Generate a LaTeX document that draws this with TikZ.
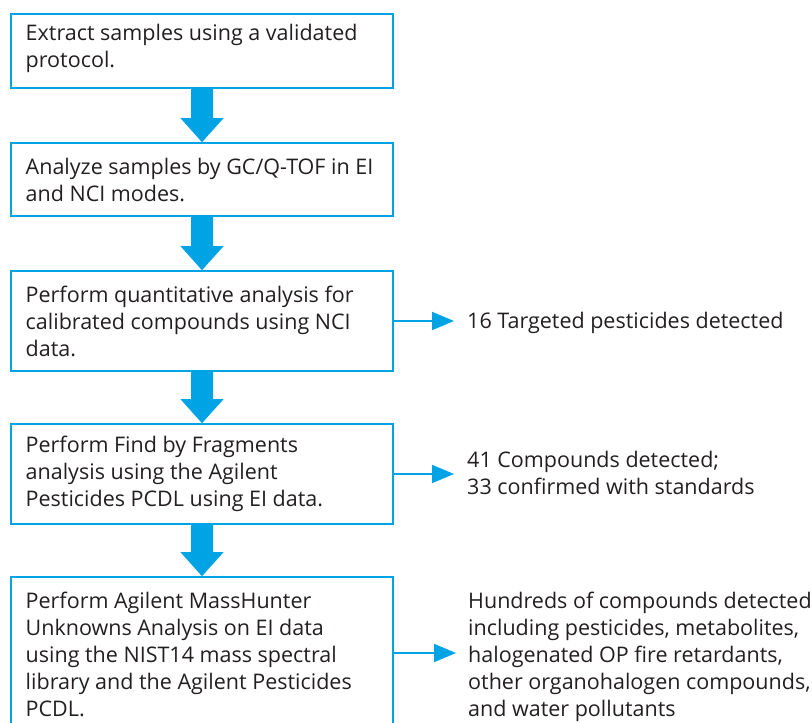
\documentclass[tikz,border=0pt]{standalone}
\usepackage{fontspec}
\setmainfont{Open Sans}
\usetikzlibrary{arrows.meta,calc}
\definecolor{ablue}{RGB}{0,164,228}
\definecolor{txtc}{RGB}{35,31,32}
\tikzset{
  box/.style={draw=ablue, line width=1.6pt, rectangle, minimum width=382pt, inner sep=0pt},
  txt/.style={anchor=north west, inner sep=0pt, align=left, text=txtc, font=\fontsize{21.5}{27}\selectfont},
  fat/.style={fill=ablue},
  side/.style={draw=ablue, line width=2pt, -{Triangle[length=22pt,width=18pt]}}
}
\begin{document}
\begin{tikzpicture}[x=1pt,y=-1pt]
\useasboundingbox (0,0) rectangle (812,723);
\clip (0,0) rectangle (812,723);
% boxes
\node[box, minimum height=74pt]  (b1) at (202,51) {};
\node[box, minimum height=73pt]  (b2) at (202,179.5) {};
\node[box, minimum height=100pt] (b3) at (202,321) {};
\node[box, minimum height=100pt] (b4) at (202,474) {};
\node[box, minimum height=152pt] (b5) at (202,653) {};
% box texts
\node[txt] (t1) at (25.5,21.1) {\strut Extract samples using a validated\\protocol.\strut};
\node[txt] (t2) at (25.5,155.1) {\strut Analyze samples by GC/Q-TOF in EI\\and NCI modes.\strut};
\node[txt] (t3) at (25.5,283.8) {\strut Perform quantitative analysis for\\calibrated compounds using NCI\\data.\strut};
\node[txt] (t4) at (25.5,433.8) {\strut Perform Find by Fragments\\analysis using the Agilent\\Pesticides PCDL using EI data.\strut};
\node[txt] (t5) at (25.5,589.6) {\strut Perform Agilent MassHunter\\Unknowns Analysis on EI data\\using the NIST14 mass spectral\\library and the Agilent Pesticides\\PCDL.\strut};
% result texts
\node[txt] (r1) at (467,309.1) {\strut 16 Targeted pesticides detected\strut};
\node[txt] (r2) at (467,448.1) {\strut 41 Compounds detected;\\33 confirmed with standards\strut};
\node[txt] (r3) at (468,589.1) {\strut Hundreds of compounds detected\\including pesticides, metabolites,\\halogenated OP fire retardants,\\other organohalogen compounds,\\and water pollutants\strut};
% fat arrows
\foreach \a/\b in {b1/b2,b2/b3,b3/b4,b4/b5}
  \fill[fat] ($(\a.south)+(-11,0)$) -- ($(\a.south)+(11,0)$) -- ($(\b.north)+(11,-24)$)
    -- ($(\b.north)+(21.5,-24)$) -- (\b.north) -- ($(\b.north)+(-21.5,-24)$)
    -- ($(\b.north)+(-11,-24)$) -- cycle;
% side arrows
\draw[side, shorten >=13pt] (b3.east) -- (b3.east -| r1.west);
\draw[side, shorten >=13pt] (b4.east) -- (b4.east -| r2.west);
\draw[side, shorten >=12pt] (b5.east) -- (b5.east -| r3.west);
\end{tikzpicture}
\end{document}
